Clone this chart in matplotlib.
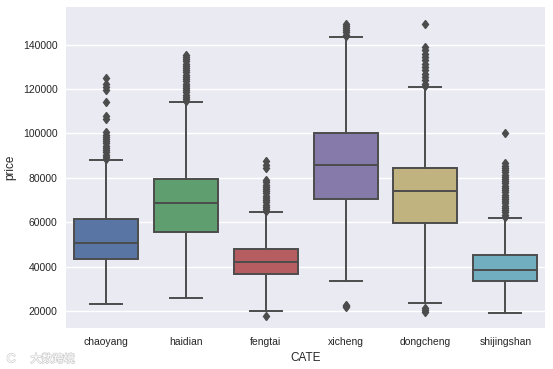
import colorsys
import matplotlib
matplotlib.use("Agg")
import matplotlib.pyplot as plt
import matplotlib.colors as mcolors
import matplotlib.patheffects as pe

# categories and box statistics
cates = ["chaoyang", "haidian", "fengtai", "xicheng", "dongcheng", "shijingshan"]
q1 = [43400, 55800, 36600, 70500, 59800, 33700]
med = [50800, 68500, 42100, 85800, 74100, 38400]
q3 = [61400, 79400, 47800, 100000, 84300, 45400]
whislo = [23100, 26100, 20200, 33400, 23500, 19200]
whishi = [88000, 114200, 64800, 143300, 120900, 61800]

fliers = [
    [88500, 89500, 90500, 91500, 92500, 93500, 94500, 95500, 96500, 97500,
     98500, 99500, 100500, 106500, 108000, 114000, 119500, 121000, 122500, 124800],
    [114500, 115500, 116500, 117500, 118500, 119500, 120500, 121500, 122500,
     123500, 124500, 125500, 126500, 127500, 128500, 129500, 130500, 131500,
     132500, 133500, 134500, 135500],
    [17800, 65000, 66000, 67000, 68000, 69000, 70000, 71000, 72000, 73000,
     74000, 75000, 76000, 77000, 78000, 79000, 84500, 86000, 87500],
    [22000, 22500, 23000, 143800, 144500, 145500, 146500, 147500, 148500, 149500],
    [19500, 20500, 21500, 121500, 122500, 124000, 125500, 127000, 128500, 130000,
     131500, 133000, 134500, 136000, 137500, 139000, 149200],
    [62500, 63500, 64500, 65500, 66500, 67500, 68500, 69500, 70500, 71500, 72500,
     73500, 74500, 75500, 76500, 77500, 78500, 79500, 80500, 81500, 82500,
     83500, 84500, 85500, 86500, 100300],
]

palette = ["#4C72B0", "#55A868", "#C44E52", "#8172B2", "#CCB974", "#64B5CD"]


def desaturate(c, prop):
    h, l, s = colorsys.rgb_to_hls(*mcolors.to_rgb(c))
    return colorsys.hls_to_rgb(h, l, s * prop)


colors = [desaturate(c, 0.75) for c in palette]
lum = min(colorsys.rgb_to_hls(*c)[1] for c in colors) * 0.6
gray = (lum, lum, lum)

plt.rcParams["font.family"] = ["Liberation Sans", "DejaVu Sans"]

fig = plt.figure(figsize=(5.53, 3.69), dpi=100)
ax = fig.add_axes([0.1193, 0.1103, 0.8667, 0.8699])
ax.set_facecolor("#EAEAF2")
for s in ax.spines.values():
    s.set_visible(False)

stats = []
for i, c in enumerate(cates):
    stats.append(dict(label=c, q1=q1[i], med=med[i], q3=q3[i],
                      whislo=whislo[i], whishi=whishi[i], fliers=fliers[i]))

lw = 1.4
bp = ax.bxp(stats, positions=range(len(cates)), widths=0.8, patch_artist=True,
            boxprops=dict(edgecolor=gray, linewidth=lw),
            medianprops=dict(color=gray, linewidth=lw),
            whiskerprops=dict(color=gray, linewidth=lw),
            capprops=dict(color=gray, linewidth=lw),
            flierprops=dict(marker="d", markersize=4.5, markerfacecolor=gray,
                            markeredgecolor=gray, linestyle="none"))
for patch, col in zip(bp["boxes"], colors):
    patch.set_facecolor(col)

ax.set_xlim(-0.5, len(cates) - 0.5)
ax.set_ylim(12300, 156800)
ax.set_yticks([20000, 40000, 60000, 80000, 100000, 120000, 140000])
ax.set_xticks(range(len(cates)))
ax.set_xticklabels(cates)
ax.yaxis.grid(True, color="white", linewidth=1.0)
ax.xaxis.grid(False)
ax.set_axisbelow(True)
ax.tick_params(length=0, pad=6, labelsize=7.5, labelcolor="#262626")
ax.set_xlabel("CATE", fontsize=8.5, color="#262626", labelpad=4)
ax.set_ylabel("price", fontsize=8.5, color="#262626", labelpad=5)

# faint watermark in the lower left corner
wm = [pe.withStroke(linewidth=1.0, foreground="#d0d0d0")]
fig.text(0.055, 0.018, "大数跨境", fontsize=8, color="white",
         family=["Noto Sans CJK SC", "DejaVu Sans"], path_effects=wm)
fig.text(0.012, 0.018, "C", fontsize=9, color="white", path_effects=wm)

fig.savefig("out.png", dpi=100)
